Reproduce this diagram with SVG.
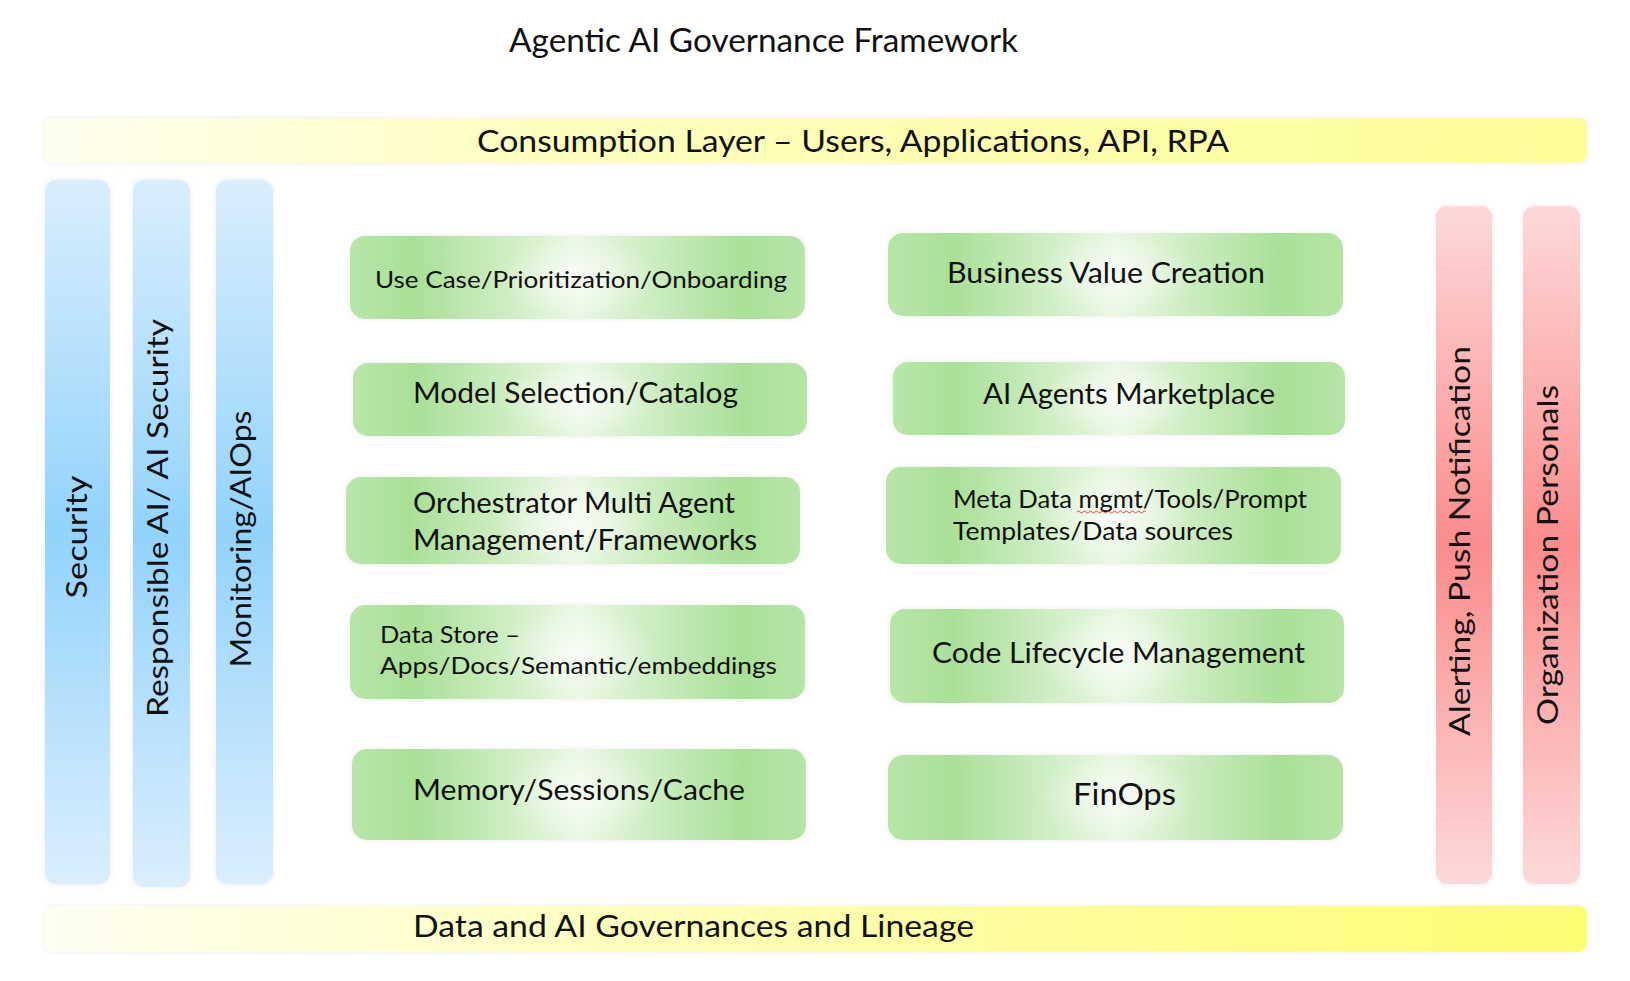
<svg xmlns="http://www.w3.org/2000/svg" width="1630" height="981" viewBox="0 0 1630 981">
<defs>
<linearGradient id="gTop" x1="0" y1="0" x2="1" y2="0">
<stop offset="0" stop-color="#fffff0"/>
<stop offset="0.3" stop-color="#fefec2"/>
<stop offset="1" stop-color="#fdfd98"/>
</linearGradient>
<linearGradient id="gBot" x1="0" y1="0" x2="1" y2="0">
<stop offset="0" stop-color="#fffff2"/>
<stop offset="0.35" stop-color="#fefec0"/>
<stop offset="1" stop-color="#fdfd72"/>
</linearGradient>
<linearGradient id="gBlue" x1="0" y1="0" x2="0" y2="1">
<stop offset="0" stop-color="#daeefd"/>
<stop offset="0.5" stop-color="#92d3fb"/>
<stop offset="1" stop-color="#dbeefd"/>
</linearGradient>
<linearGradient id="gRed" x1="0" y1="0" x2="0" y2="1">
<stop offset="0" stop-color="#fdd9d9"/>
<stop offset="0.5" stop-color="#fb8c8c"/>
<stop offset="1" stop-color="#fdd9d9"/>
</linearGradient>
<linearGradient id="gGreen" x1="0" y1="0" x2="1" y2="0">
<stop offset="0" stop-color="#b8e6a8"/>
<stop offset="0.14" stop-color="#a9e097"/>
<stop offset="0.5" stop-color="#eaf8e4"/>
<stop offset="0.86" stop-color="#a9e097"/>
<stop offset="1" stop-color="#b6e5a6"/>
</linearGradient>
<radialGradient id="gGlow" cx="0.5" cy="0.5" r="0.5" fx="0.5" fy="0.5" gradientTransform="translate(0.5 0.5) scale(0.35 1) translate(-0.5 -0.5)">
<stop offset="0" stop-color="#ffffff" stop-opacity="0.7"/>
<stop offset="1" stop-color="#ffffff" stop-opacity="0"/>
</radialGradient>
<filter id="sh" x="-5%" y="-5%" width="110%" height="110%">
<feGaussianBlur in="SourceAlpha" stdDeviation="3"/>
<feComponentTransfer><feFuncA type="linear" slope="0.08"/></feComponentTransfer>
<feMerge><feMergeNode/><feMergeNode in="SourceGraphic"/></feMerge>
</filter>
</defs>
<style>
text{font-family:"Lato","Noto Sans","Liberation Sans",sans-serif;fill:#111;}
.hbar{filter:url(#sh);}
.blue{fill:url(#gBlue);filter:url(#sh);}
.red{fill:url(#gRed);filter:url(#sh);}
.box{fill:url(#gGreen);filter:url(#sh);}
.glow{fill:url(#gGlow);}
.vt{font-size:29px;text-anchor:middle;}
</style>
<rect width="1630" height="981" fill="#ffffff"/>

<g id="title">
<text x="509" y="52" font-size="32" textLength="509" lengthAdjust="spacingAndGlyphs">Agentic AI Governance Framework</text>
</g>

<g id="consumption-layer">
<rect x="45" y="118" width="1542" height="45" rx="8" fill="url(#gTop)" class="hbar"/>
<text x="477" y="152" font-size="30" textLength="752" lengthAdjust="spacingAndGlyphs">Consumption Layer – Users, Applications, API, RPA</text>
</g>

<g id="security">
<rect x="45" y="180" width="65" height="704" rx="11" class="blue"/>
<text class="vt" transform="translate(87 537) rotate(-90)" textLength="123" lengthAdjust="spacingAndGlyphs">Security</text>
</g>
<g id="responsible-ai">
<rect x="133" y="180" width="57" height="707" rx="11" class="blue"/>
<text class="vt" transform="translate(168 518) rotate(-90)" textLength="398" lengthAdjust="spacingAndGlyphs">Responsible AI/ AI Security</text>
</g>
<g id="monitoring">
<rect x="216" y="180" width="57" height="704" rx="11" class="blue"/>
<text class="vt" transform="translate(251 539) rotate(-90)" textLength="257" lengthAdjust="spacingAndGlyphs">Monitoring/AIOps</text>
</g>

<g id="alerting">
<rect x="1436" y="206" width="56" height="678" rx="11" class="red"/>
<text class="vt" transform="translate(1470 541) rotate(-90)" textLength="390" lengthAdjust="spacingAndGlyphs">Alerting, Push Notification</text>
</g>
<g id="organization">
<rect x="1523" y="206" width="57" height="678" rx="11" class="red"/>
<text class="vt" transform="translate(1558 555) rotate(-90)" textLength="340" lengthAdjust="spacingAndGlyphs">Organization Personals</text>
</g>

<g id="use-case">
<rect x="350" y="236" width="455" height="83" rx="15" class="box"/>
<rect x="350" y="236" width="455" height="83" rx="15" class="glow"/>
<text x="375" y="288" font-size="24" textLength="412" lengthAdjust="spacingAndGlyphs">Use Case/Prioritization/Onboarding</text>
</g>
<g id="model-selection">
<rect x="353" y="363" width="454" height="73" rx="15" class="box"/>
<rect x="353" y="363" width="454" height="73" rx="15" class="glow"/>
<text x="413" y="403" font-size="28" textLength="325" lengthAdjust="spacingAndGlyphs">Model Selection/Catalog</text>
</g>
<g id="orchestrator">
<rect x="346" y="477" width="454" height="87" rx="15" class="box"/>
<rect x="346" y="477" width="454" height="87" rx="15" class="glow"/>
<text x="413" y="513" font-size="28" textLength="322" lengthAdjust="spacingAndGlyphs">Orchestrator Multi Agent</text>
<text x="413" y="550" font-size="28" textLength="344" lengthAdjust="spacingAndGlyphs">Management/Frameworks</text>
</g>
<g id="data-store">
<rect x="350" y="605" width="455" height="94" rx="15" class="box"/>
<rect x="350" y="605" width="455" height="94" rx="15" class="glow"/>
<text x="380" y="643" font-size="24" textLength="140" lengthAdjust="spacingAndGlyphs">Data Store –</text>
<text x="380" y="674" font-size="24" textLength="397" lengthAdjust="spacingAndGlyphs">Apps/Docs/Semantic/embeddings</text>
</g>
<g id="memory">
<rect x="352" y="749" width="454" height="91" rx="15" class="box"/>
<rect x="352" y="749" width="454" height="91" rx="15" class="glow"/>
<text x="413" y="800" font-size="28" textLength="332" lengthAdjust="spacingAndGlyphs">Memory/Sessions/Cache</text>
</g>

<g id="business-value">
<rect x="888" y="233" width="455" height="83" rx="15" class="box"/>
<rect x="888" y="233" width="455" height="83" rx="15" class="glow"/>
<text x="947" y="283" font-size="28" textLength="318" lengthAdjust="spacingAndGlyphs">Business Value Creation</text>
</g>
<g id="ai-agents-marketplace">
<rect x="893" y="362" width="452" height="73" rx="15" class="box"/>
<rect x="893" y="362" width="452" height="73" rx="15" class="glow"/>
<text x="983" y="404" font-size="28" textLength="292" lengthAdjust="spacingAndGlyphs">AI Agents Marketplace</text>
</g>
<g id="meta-data">
<rect x="886" y="467" width="455" height="97" rx="15" class="box"/>
<rect x="886" y="467" width="455" height="97" rx="15" class="glow"/>
<text x="953" y="508" font-size="25" textLength="354" lengthAdjust="spacingAndGlyphs">Meta Data mgmt/Tools/Prompt</text>
<text x="953" y="540" font-size="25" textLength="280" lengthAdjust="spacingAndGlyphs">Templates/Data sources</text>
<path d="M1077 512 q1.5 -2 3 0 t3 0 t3 0 t3 0 t3 0 t3 0 t3 0 t3 0 t3 0 t3 0 t3 0 t3 0 t3 0 t3 0 t3 0 t3 0 t3 0 t3 0 t3 0 t3 0 t3 0 t3 0 t3 0" fill="none" stroke="#e03030" stroke-width="0.9"/>
</g>
<g id="code-lifecycle">
<rect x="890" y="609" width="454" height="94" rx="15" class="box"/>
<rect x="890" y="609" width="454" height="94" rx="15" class="glow"/>
<text x="932" y="663" font-size="28" textLength="373" lengthAdjust="spacingAndGlyphs">Code Lifecycle Management</text>
</g>
<g id="finops">
<rect x="888" y="755" width="455" height="85" rx="15" class="box"/>
<rect x="888" y="755" width="455" height="85" rx="15" class="glow"/>
<text x="1073" y="805" font-size="31" textLength="103" lengthAdjust="spacingAndGlyphs">FinOps</text>
</g>

<g id="governance-layer">
<rect x="45" y="906" width="1542" height="46" rx="8" fill="url(#gBot)" class="hbar"/>
<text x="413" y="937" font-size="30" textLength="561" lengthAdjust="spacingAndGlyphs">Data and AI Governances and Lineage</text>
</g>

<g id="connectors"></g>
</svg>
